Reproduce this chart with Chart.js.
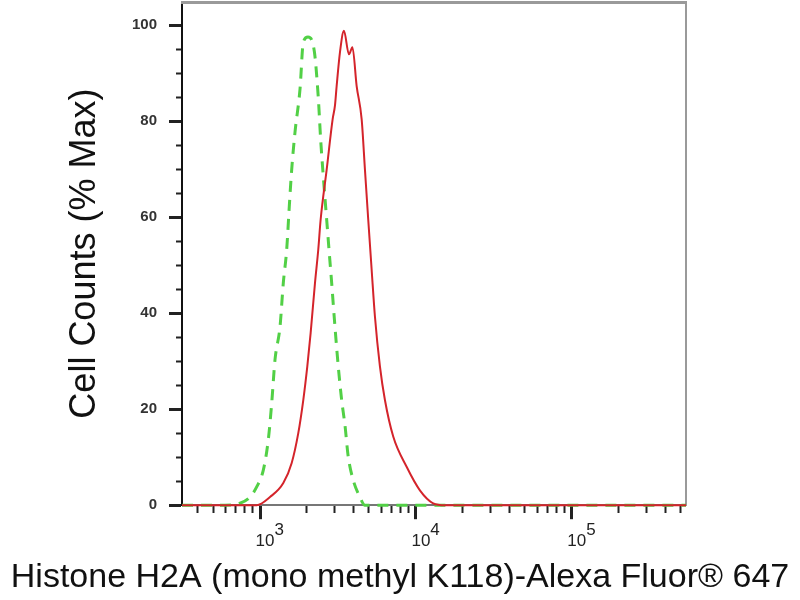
<!DOCTYPE html>
<html>
<head>
<meta charset="utf-8">
<title>Histone H2A flow histogram</title>
<script src="https://cdn.jsdelivr.net/npm/chart.js@4.4.1/dist/chart.umd.min.js"></script>
<style>
  html, body { margin: 0; padding: 0; background: #fff; }
</style>
</head>
<body>
<canvas id="histo" width="800" height="600"></canvas>
<script>
// values: fluorescence (x) and % of max cell count (y)
const stainedX = [316, 900, 952, 1159, 1411, 1597, 1760, 1895, 2011, 2113, 2253, 2364, 2449, 2677, 2924, 3025, 3102, 3257, 3455, 3720, 3916, 4168, 4487, 4711, 4945, 5200, 5460, 5878, 6328, 7153, 8718, 10608, 12909, 15350, 540000];
const stainedY = [0, 0, 0, 1.7, 4.6, 8.8, 15.0, 21.9, 28.9, 35.9, 46.3, 53.2, 59.5, 69.9, 80.4, 83.2, 87.3, 94.3, 98.8, 93.9, 95.4, 87.3, 80.4, 69.9, 59.5, 49.1, 39.3, 28.9, 21.9, 14.3, 8.0, 3.1, 0.4, 0, 0];

const controlX = [316, 596, 744, 863, 952, 1050, 1130, 1189, 1248, 1344, 1411, 1483, 1541, 1597, 1677, 1805, 1895, 2031, 2229, 2364, 2449, 2546, 2677, 2781, 2882, 3025, 3177, 3340, 3506, 3681, 3964, 4375, 4711, 540000];
const controlY = [0, 0, 0.4, 1.7, 3.8, 7.3, 13.6, 21.3, 30.3, 37.2, 46.3, 53.2, 62.2, 69.9, 77.7, 86.6, 96.4, 97.5, 94.6, 85.0, 76.2, 68.5, 59.5, 52.6, 46.3, 37.2, 28.9, 21.9, 16.7, 10.1, 5.2, 1.7, 0, 0];

const xMin = 316, xMax = 540000;
const yMin = 0, yMax = 104.8;
const xTickValues = [400, 500, 600, 700, 800, 900,
  1000, 2000, 3000, 4000, 5000, 6000, 7000, 8000, 9000,
  10000, 20000, 30000, 40000, 50000, 60000, 70000, 80000, 90000,
  100000, 200000, 300000, 400000, 500000];
const xMajorValues = [1000, 10000, 100000];
const xMajorExponents = ['3', '4', '5'];
const yStep = 5;
const yLabelEvery = 20;

const xTitle = 'Histone H2A (mono methyl K118)-Alexa Fluor® 647';
const yTitle = 'Cell Counts (% Max)';

const sans = '"Liberation Sans", Arial, sans-serif';

const toPoints = (xs, ys) => xs.map((x, i) => ({ x: x, y: ys[i] }));
const isMajorX = v => xMajorValues.includes(v);
const isMajorY = v => v % yLabelEvery === 0;
const noPad = s => { s.paddingTop = 0; s.paddingBottom = 0; s.paddingLeft = 0; s.paddingRight = 0; };

new Chart(document.getElementById('histo'), {
  type: 'line',
  data: {
    datasets: [
      {
        label: 'Histone H2A (mono methyl K118)',
        data: toPoints(stainedX, stainedY),
        borderColor: '#d4242b',
        borderWidth: 2,
        pointRadius: 0,
        cubicInterpolationMode: 'monotone',
        clip: false
      },
      {
        label: 'Isotype control',
        data: toPoints(controlX, controlY),
        borderColor: '#52d046',
        borderWidth: 3,
        borderDash: [11, 8],
        pointRadius: 0,
        cubicInterpolationMode: 'monotone',
        clip: false
      }
    ]
  },
  options: {
    responsive: false,
    animation: false,
    layout: { padding: 0 },
    plugins: {
      legend: { display: false },
      tooltip: { enabled: false },
      title: {
        display: true,
        position: 'bottom',
        text: xTitle,
        color: '#111',
        font: { family: sans, size: 34, weight: 'normal' },
        padding: { top: 0, bottom: 2 }
      }
    },
    scales: {
      x: {
        type: 'logarithmic',
        position: 'bottom',
        bounds: 'data',
        min: xMin,
        max: xMax,
        afterBuildTicks: s => { s.ticks = xTickValues.map(v => ({ value: v })); },
        afterFit: s => { s.height = 52; noPad(s); },
        border: { color: '#777', width: 2 },
        grid: {
          drawOnChartArea: false,
          tickLength: 14,
          tickColor: '#222',
          tickWidth: c => (c.tick && isMajorX(c.tick.value)) ? 3 : 2,
          tickBorderDash: c => (c.tick && isMajorX(c.tick.value)) ? [] : [7, 100]
        },
        ticks: {
          autoSkip: false,
          maxRotation: 0,
          padding: 6,
          labelOffset: 5,
          color: '#222',
          font: { family: sans, size: 17, lineHeight: 0.62 },
          // exponent on a raised first line, shifted right of the "10"
          callback: v => {
            const i = xMajorValues.indexOf(v);
            return i < 0 ? '' : ['      ' + xMajorExponents[i], '10'];
          }
        }
      },
      y: {
        type: 'linear',
        position: 'left',
        min: yMin,
        max: yMax,
        afterFit: s => { s.width = 182; noPad(s); },
        border: { color: '#111', width: 2 },
        grid: {
          drawOnChartArea: false,
          tickLength: 13,
          tickColor: '#222',
          tickWidth: c => (c.tick && isMajorY(c.tick.value)) ? 3 : 2,
          tickBorderDash: c => (c.tick && isMajorY(c.tick.value)) ? [] : [0, 7, 6, 100]
        },
        ticks: {
          stepSize: yStep,
          includeBounds: false,
          autoSkip: false,
          padding: 12,
          color: '#333',
          font: { family: sans, size: 15, weight: 'bold' },
          callback: v => isMajorY(v) ? v : ''
        },
        title: {
          display: true,
          text: yTitle,
          color: '#111',
          font: { family: sans, size: 36, weight: 'normal' },
          padding: { top: 63, bottom: 0 }
        }
      },
      // plain frame lines on top and right of the plot
      xTop: {
        position: 'top',
        type: 'linear',
        afterFit: s => { s.height = 2; noPad(s); },
        border: { color: '#9a9a9a', width: 3 },
        grid: { display: false },
        ticks: { display: false }
      },
      yRight: {
        position: 'right',
        type: 'linear',
        afterFit: s => { s.width = 114; noPad(s); },
        border: { color: '#9a9a9a', width: 2 },
        grid: { display: false },
        ticks: { display: false }
      }
    }
  }
});
</script>
</body>
</html>
